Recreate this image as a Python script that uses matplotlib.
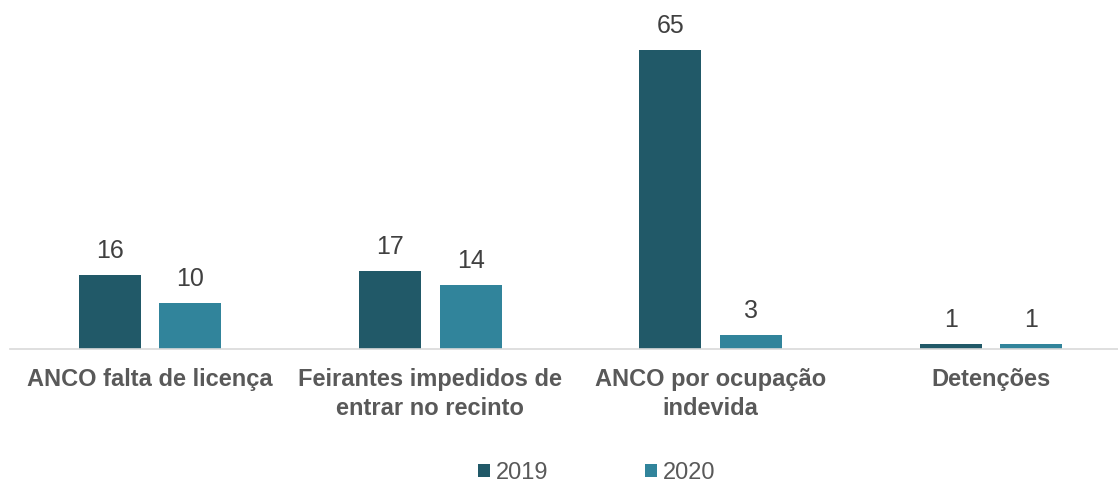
import matplotlib.pyplot as plt
import numpy as np

categories = ["ANCO falta de licença", "Feirantes impedidos de\nentrar no recinto",
              "ANCO por ocupação\nindevida", "Detenções"]
v2019 = [16, 17, 65, 1]
v2020 = [10, 14, 3, 1]
series = ["2019", "2020"]

c2019 = "#215968"
c2020 = "#31849B"

plt.rcParams['font.family'] = ['Liberation Sans', 'DejaVu Sans']

fig = plt.figure(figsize=(11.18, 4.82), dpi=100)
ax = fig.add_axes([10/1118, 133/482, 1108/1118, 349/482])

x = np.arange(len(categories))
w = 0.221
off = 0.1436
b1 = ax.bar(x - off, v2019, w, color=c2019, label=series[0])
b2 = ax.bar(x + off, v2020, w, color=c2020, label=series[1])

for bars, vals in ((b1, v2019), (b2, v2020)):
    for r, v in zip(bars, vals):
        ax.annotate(str(v), (r.get_x() + r.get_width()/2, v), xytext=(0, 17),
                    textcoords='offset pixels', ha='center', va='baseline',
                    fontsize=18, color='#404040')

ax.set_xlim(-0.4994, 3.453)
ax.set_ylim(0, 75.9)
ax.set_yticks([])
ax.set_xticks(x)
ax.set_xticklabels(categories, fontsize=17, fontweight='bold', color='#595959', linespacing=1.3)
ax.tick_params(axis='x', length=0, pad=14)
for s in ['top', 'right', 'left']:
    ax.spines[s].set_visible(False)
ax.spines['bottom'].set_color('#D9D9D9')
ax.spines['bottom'].set_linewidth(1.2)

leg = fig.legend(loc='center', bbox_to_anchor=(597/1118, 1 - 473/482), ncol=2, frameon=False,
                 fontsize=17, handlelength=0.5, handleheight=0.5, handletextpad=0.25,
                 columnspacing=4.1)
for t in leg.get_texts():
    t.set_color('#595959')

fig.savefig("out.png", dpi=100)
